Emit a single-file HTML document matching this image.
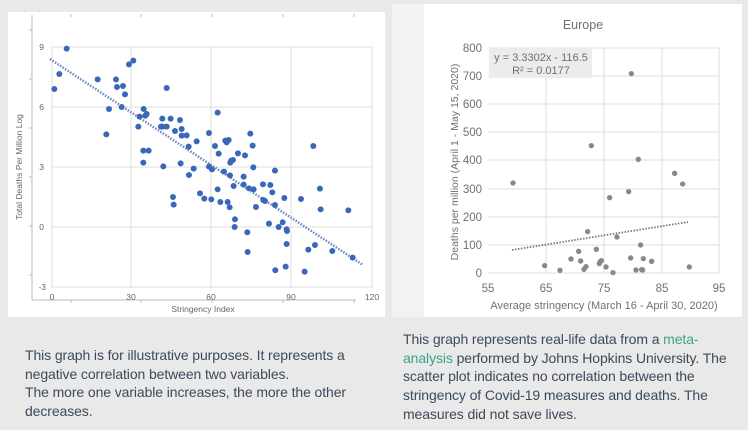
<!DOCTYPE html>
<html><head><style>
body{margin:0;width:748px;height:430px;background:#e9e9e9;overflow:hidden;font-family:"Liberation Sans",sans-serif;}
.t{position:absolute;font-size:14px;line-height:18.7px;color:#3b4a5a;white-space:nowrap;letter-spacing:-0.1px;}
a{color:#3aa38a;text-decoration:none}
</style></head><body>
<svg width="748" height="430" style="position:absolute;left:0;top:0" font-family="Liberation Sans, sans-serif">
<rect x="8" y="12" width="377" height="305" fill="#fff"/>
<rect x="392" y="4" width="32" height="313" fill="#f2f2f2"/>
<rect x="424" y="4" width="318" height="313" fill="#fff"/>
<g stroke="#ddd" stroke-width="1" fill="none">
<rect x="52" y="47" width="320" height="240"/>
<line x1="131" y1="47" x2="131" y2="287"/><line x1="211" y1="47" x2="211" y2="287"/><line x1="291" y1="47" x2="291" y2="287"/>
<line x1="52" y1="107" x2="372" y2="107"/><line x1="52" y1="167" x2="372" y2="167"/><line x1="52" y1="227" x2="372" y2="227"/>
</g>
<g stroke="#bbb" stroke-width="1">
<line x1="32" y1="15" x2="32" y2="300"/><line x1="32" y1="300" x2="356" y2="300"/>
<line x1="29" y1="30" x2="32" y2="30"/><line x1="29" y1="79" x2="32" y2="79"/><line x1="29" y1="128" x2="32" y2="128"/><line x1="29" y1="177" x2="32" y2="177"/><line x1="29" y1="226" x2="32" y2="226"/><line x1="29" y1="275" x2="32" y2="275"/>
<line x1="71" y1="300" x2="71" y2="303"/><line x1="141" y1="300" x2="141" y2="303"/><line x1="212" y1="300" x2="212" y2="303"/><line x1="283" y1="300" x2="283" y2="303"/><line x1="354" y1="300" x2="354" y2="303"/>
<line x1="71" y1="14" x2="71" y2="17"/><line x1="141" y1="14" x2="141" y2="17"/><line x1="212" y1="14" x2="212" y2="17"/><line x1="283" y1="14" x2="283" y2="17"/><line x1="354" y1="14" x2="354" y2="17"/>
</g>
<g font-size="8.5" fill="#666" text-anchor="end">
<text x="44" y="50">9</text><text x="44" y="110">6</text><text x="44" y="170">3</text><text x="44" y="230">0</text><text x="46" y="290">-3</text>
</g>
<g font-size="8.5" fill="#666" text-anchor="middle">
<text x="52" y="300">0</text><text x="131" y="300">30</text><text x="211" y="300">60</text><text x="291" y="300">90</text><text x="372" y="300">120</text>
<text x="203" y="312">Stringency Index</text>
<text transform="translate(22,167) rotate(-90)">Total Deaths Per Million Log</text>
</g>
<line x1="50" y1="59" x2="363" y2="265" stroke="#6a86c0" stroke-width="2.5" stroke-dasharray="1.5,1.5"/>
<g fill="#3a68b8" transform="scale(0.3333)">
<circle cx="163" cy="267" r="9"/><circle cx="178" cy="222" r="9"/><circle cx="200" cy="146" r="9"/><circle cx="293" cy="238" r="9"/><circle cx="319" cy="403" r="9"/><circle cx="327" cy="327" r="9"/><circle cx="348" cy="238" r="9"/><circle cx="351" cy="261" r="9"/><circle cx="365" cy="321" r="9"/><circle cx="369" cy="258" r="9"/><circle cx="375" cy="283" r="9"/><circle cx="387" cy="193" r="9"/><circle cx="400" cy="182" r="9"/><circle cx="415" cy="380" r="9"/><circle cx="419" cy="350" r="9"/><circle cx="431" cy="327" r="9"/><circle cx="436" cy="347" r="9"/><circle cx="440" cy="342" r="9"/><circle cx="430" cy="452" r="9"/><circle cx="430" cy="488" r="9"/><circle cx="446" cy="452" r="9"/><circle cx="483" cy="380" r="9"/><circle cx="488" cy="380" r="9"/><circle cx="487" cy="356" r="9"/><circle cx="500" cy="264" r="9"/><circle cx="500" cy="380" r="9"/><circle cx="512" cy="356" r="9"/><circle cx="490" cy="499" r="9"/><circle cx="519" cy="591" r="9"/><circle cx="521" cy="614" r="9"/><circle cx="525" cy="393" r="9"/><circle cx="540" cy="360" r="9"/><circle cx="545" cy="387" r="9"/><circle cx="545" cy="407" r="9"/><circle cx="542" cy="490" r="9"/><circle cx="560" cy="406" r="9"/><circle cx="566" cy="440" r="9"/><circle cx="567" cy="525" r="9"/><circle cx="581" cy="506" r="9"/><circle cx="590" cy="424" r="9"/><circle cx="600" cy="580" r="9"/><circle cx="613" cy="596" r="9"/><circle cx="627" cy="399" r="9"/><circle cx="627" cy="500" r="9"/><circle cx="634" cy="598" r="9"/><circle cx="636" cy="508" r="9"/><circle cx="645" cy="438" r="9"/><circle cx="653" cy="338" r="9"/><circle cx="653" cy="568" r="9"/><circle cx="656" cy="461" r="9"/><circle cx="661" cy="606" r="9"/><circle cx="672" cy="515" r="9"/><circle cx="676" cy="422" r="9"/><circle cx="680" cy="427" r="9"/><circle cx="683" cy="606" r="9"/><circle cx="686" cy="420" r="9"/><circle cx="689" cy="622" r="9"/><circle cx="690" cy="526" r="9"/><circle cx="691" cy="488" r="9"/><circle cx="694" cy="482" r="9"/><circle cx="699" cy="480" r="9"/><circle cx="701" cy="558" r="9"/><circle cx="704" cy="681" r="9"/><circle cx="705" cy="658" r="9"/><circle cx="714" cy="460" r="9"/><circle cx="731" cy="530" r="9"/><circle cx="731" cy="554" r="9"/><circle cx="735" cy="466" r="9"/><circle cx="742" cy="697" r="9"/><circle cx="743" cy="756" r="9"/><circle cx="747" cy="565" r="9"/><circle cx="751" cy="401" r="9"/><circle cx="758" cy="437" r="9"/><circle cx="760" cy="502" r="9"/><circle cx="761" cy="568" r="9"/><circle cx="768" cy="621" r="9"/><circle cx="789" cy="553" r="9"/><circle cx="790" cy="600" r="9"/><circle cx="795" cy="603" r="9"/><circle cx="807" cy="671" r="9"/><circle cx="811" cy="555" r="9"/><circle cx="817" cy="577" r="9"/><circle cx="825" cy="512" r="9"/><circle cx="825" cy="615" r="9"/><circle cx="826" cy="811" r="9"/><circle cx="836" cy="681" r="9"/><circle cx="848" cy="667" r="9"/><circle cx="853" cy="594" r="9"/><circle cx="857" cy="800" r="9"/><circle cx="860" cy="688" r="9"/><circle cx="860" cy="732" r="9"/><circle cx="861" cy="693" r="9"/><circle cx="903" cy="597" r="9"/><circle cx="914" cy="815" r="9"/><circle cx="925" cy="749" r="9"/><circle cx="940" cy="438" r="9"/><circle cx="945" cy="735" r="9"/><circle cx="960" cy="566" r="9"/><circle cx="962" cy="628" r="9"/><circle cx="997" cy="753" r="9"/><circle cx="1045" cy="631" r="9"/><circle cx="1058" cy="773" r="9"/>
</g>
<g stroke="#ddd" stroke-width="1">
<line x1="488" y1="48" x2="719" y2="48"/><line x1="488" y1="76" x2="719" y2="76"/><line x1="488" y1="104" x2="719" y2="104"/><line x1="488" y1="132" x2="719" y2="132"/><line x1="488" y1="160" x2="719" y2="160"/><line x1="488" y1="189" x2="719" y2="189"/><line x1="488" y1="217" x2="719" y2="217"/><line x1="488" y1="245" x2="719" y2="245"/><line x1="488" y1="273" x2="719" y2="273"/>
<line x1="546" y1="48" x2="546" y2="273"/><line x1="604" y1="48" x2="604" y2="273"/><line x1="662" y1="48" x2="662" y2="273"/><line x1="719" y1="48" x2="719" y2="273"/>
</g>
<rect x="489" y="48" width="103" height="30" fill="#ececec"/>
<g font-size="11" fill="#707070">
<text x="541" y="61" text-anchor="middle">y = 3.3302x - 116.5</text>
<text x="541" y="74" text-anchor="middle">R² = 0.0177</text>
<text x="583" y="29" text-anchor="middle" font-size="12.5">Europe</text>
<g text-anchor="end" font-size="11.5"><text x="482" y="52">800</text><text x="482" y="80">700</text><text x="482" y="108">600</text><text x="482" y="136">500</text><text x="482" y="164">400</text><text x="482" y="193">300</text><text x="482" y="221">200</text><text x="482" y="249">100</text><text x="482" y="277">0</text></g>
<g text-anchor="middle" font-size="11.5"><text x="488" y="292">55</text><text x="546" y="292">65</text><text x="604" y="292">75</text><text x="662" y="292">85</text><text x="719" y="292">95</text>
<text x="604" y="309" font-size="11">Average stringency (March 16 - April 30, 2020)</text>
<text transform="translate(458,162) rotate(-90)" font-size="10.5">Deaths per million (April 1 - May 15, 2020)</text></g>
</g>
<line x1="512" y1="250" x2="688" y2="222" stroke="#777" stroke-width="1.8" stroke-dasharray="1.5,1.5"/>
<g fill="#888" transform="translate(390,0) scale(0.3333)">
<circle cx="369" cy="549" r="8"/><circle cx="464" cy="797" r="8"/><circle cx="510" cy="811" r="8"/><circle cx="543" cy="777" r="8"/><circle cx="566" cy="754" r="8"/><circle cx="572" cy="783" r="8"/><circle cx="582" cy="808" r="8"/><circle cx="588" cy="800" r="8"/><circle cx="593" cy="695" r="8"/><circle cx="604" cy="437" r="8"/><circle cx="619" cy="748" r="8"/><circle cx="628" cy="791" r="8"/><circle cx="630" cy="786" r="8"/><circle cx="634" cy="782" r="8"/><circle cx="648" cy="801" r="8"/><circle cx="659" cy="593" r="8"/><circle cx="669" cy="818" r="8"/><circle cx="681" cy="711" r="8"/><circle cx="716" cy="575" r="8"/><circle cx="722" cy="774" r="8"/><circle cx="724" cy="221" r="8"/><circle cx="738" cy="810" r="8"/><circle cx="745" cy="478" r="8"/><circle cx="752" cy="735" r="8"/><circle cx="758" cy="810" r="8"/><circle cx="760" cy="776" r="8"/><circle cx="785" cy="784" r="8"/><circle cx="755" cy="809" r="8"/><circle cx="854" cy="520" r="8"/><circle cx="878" cy="552" r="8"/><circle cx="898" cy="801" r="8"/>
</g>
</svg>
<div class="t" style="left:25px;top:346px">This graph is for illustrative purposes. It represents a<br>negative correlation between two variables.<br>The more one variable increases, the more the other<br>decreases.</div>
<div class="t" style="left:403px;top:330px">This graph represents real-life data from a <a>meta-</a><br><a>analysis</a> performed by Johns Hopkins University. The<br>scatter plot indicates no correlation between the<br>stringency of Covid-19 measures and deaths. The<br>measures did not save lives.</div>
</body></html>
